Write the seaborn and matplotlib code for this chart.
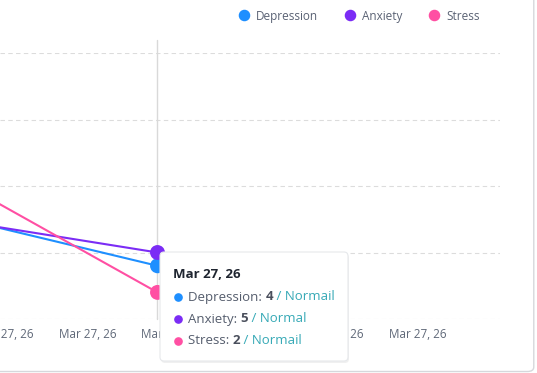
"""Mood scores line chart with hover tooltip (Depression / Anxiety / Stress)."""

import matplotlib
matplotlib.use("Agg")
import matplotlib.dates as mdates
import matplotlib.pyplot as plt
import pandas as pd
import seaborn as sns
from matplotlib.lines import Line2D
from matplotlib.patches import FancyBboxPatch

# --- data -------------------------------------------------------------
times = ["2026-03-27 07:40", "2026-03-27 11:42"]
depression = [7, 4]
anxiety = [7, 5]
stress = [9, 2]
series = ["Depression", "Anxiety", "Stress"]
severity = ["Normail", "Normal", "Normail"]   # labels shown in the tooltip
colors = ["#1e8fff", "#7b2cf5", "#ff4fa3"]
hover_idx = 1
x_range = ["2026-03-27 07:53", "2026-03-27 20:00"]

df = pd.DataFrame({"time": pd.to_datetime(times),
                   "Depression": depression, "Anxiety": anxiety, "Stress": stress})
long = df.melt(id_vars="time", var_name="scale", value_name="score")

sns.set_theme(style="white")
plt.rcParams["font.family"] = ["Open Sans", "DejaVu Sans"]

fig = plt.figure(figsize=(5.37, 3.73), dpi=100)
ax = fig.add_axes([0, 54 / 373, 500 / 537, 266 / 373])

palette = dict(zip(series, colors))
sns.lineplot(data=long, x="time", y="score", hue="scale", palette=palette,
             hue_order=series, linewidth=1.5, legend=False, ax=ax)

hover = long[long["time"] == df["time"].iloc[hover_idx]]
hx = df["time"].iloc[hover_idx]
ax.axvline(hx, ymin=0, ymax=1.05, color="#d9d9d9", lw=1.0, clip_on=False, zorder=1)
sns.scatterplot(data=hover, x="time", y="score", hue="scale", palette=palette,
                hue_order=series, s=115, linewidth=0, legend=False, ax=ax, zorder=4)

ax.set_xlim(pd.to_datetime(x_range))
ax.set_ylim(0, 20)
ax.set_yticks([0, 5, 10, 15, 20])
ax.set_yticklabels([])
ax.yaxis.grid(True, linestyle=(0, (4, 3)), color="#dcdcdc", lw=0.8)
ax.xaxis.grid(False)
ax.xaxis.set_major_locator(mdates.HourLocator(byhour=range(8, 20, 2)))
ax.xaxis.set_major_formatter(mdates.DateFormatter("%b %d, %y"))
ax.tick_params(axis="x", length=0, pad=6.5, labelsize=8.4, labelcolor="#5f6878")
ax.tick_params(axis="y", length=0)
ax.set_xlabel("")
ax.set_ylabel("")
sns.despine(ax=ax, left=True, bottom=True)

# legend
handles = [Line2D([], [], marker="o", ls="", color=c, markersize=7.3) for c in colors]
fig.legend(handles, series, loc="center", bbox_to_anchor=(0.663, 0.957), ncol=3,
           frameon=False, fontsize=8.5, handletextpad=0.0, columnspacing=1.7,
           labelcolor="#5a6274")

# card border on the right
fig.patches.append(FancyBboxPatch((-0.1, 0.004), 1.094, 1.2, transform=fig.transFigure,
                                  boxstyle="round,pad=0,rounding_size=0.012",
                                  fc="none", ec="#d6d8dc", lw=1.0, zorder=0))

# tooltip: its own axes on top, laid out in box pixels
bw, bh = 188, 109
tip = fig.add_axes([160 / 537, 12 / 373, bw / 537, bh / 373], zorder=10)
tip.set_xlim(0, bw)
tip.set_ylim(bh, 0)
tip.axis("off")
tip.add_patch(FancyBboxPatch((1, 2), bw, bh, boxstyle="round,pad=0,rounding_size=4",
                             fc="#000000", alpha=0.06, ec="none", clip_on=False))
tip.add_patch(FancyBboxPatch((0, 0), bw, bh, boxstyle="round,pad=0,rounding_size=4",
                             fc="white", ec="#e6e8eb", lw=0.8, clip_on=False))
tip.text(13, 23, hx.strftime("%b %d, %y"), fontsize=9.5, fontweight="bold",
         color="#1f2530", va="center", ha="left")

values = [depression, anxiety, stress]
for i, (name, vals, sev, c) in enumerate(zip(series, values, severity, colors)):
    yc = 45 + 22 * i
    tip.plot([18], [yc], "o", color=c, markersize=5.2, clip_on=False)
    t1 = tip.text(28, yc, f"{name}: ", fontsize=9.5, color="#555d6d",
                  ha="left", va="center")
    t2 = tip.annotate(f"{vals[hover_idx]}", xy=(1, 0), xycoords=t1, fontsize=9.5,
                      fontweight="bold", color="#4a4f5c", ha="left", va="bottom",
                      annotation_clip=False)
    tip.annotate(f" / {sev}", xy=(1, 0), xycoords=t2, fontsize=9.5, color="#36a9b6",
                 ha="left", va="bottom", annotation_clip=False)

fig.savefig("out.png", dpi=100)
